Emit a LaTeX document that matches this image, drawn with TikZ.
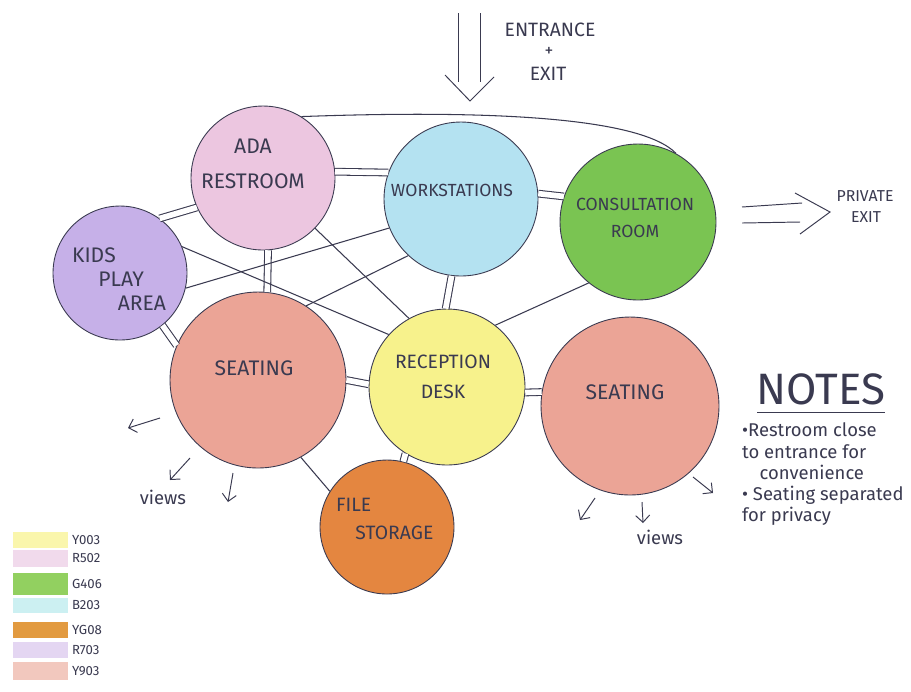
\documentclass[tikz,border=0pt]{standalone}
\usepackage{fontspec}
\setmainfont{Fira Sans}
\usetikzlibrary{arrows.meta}
\definecolor{ink}{RGB}{58,58,80}
% marker colours
\definecolor{adac}{RGB}{236,198,224}
\definecolor{workc}{RGB}{180,226,241}
\definecolor{consc}{RGB}{122,196,82}
\definecolor{kidsc}{RGB}{198,176,232}
\definecolor{seatc}{RGB}{235,164,150}
\definecolor{recc}{RGB}{247,242,140}
\definecolor{filec}{RGB}{228,134,64}
% legend swatches
\definecolor{yA}{RGB}{250,246,172}
\definecolor{rA}{RGB}{241,218,236}
\definecolor{gA}{RGB}{146,208,96}
\definecolor{bA}{RGB}{204,240,242}
\definecolor{ygA}{RGB}{226,154,64}
\definecolor{rB}{RGB}{228,214,242}
\definecolor{yB}{RGB}{242,200,190}

\begin{document}
\begin{tikzpicture}[x=0.02cm,y=-0.02cm,
  room/.style={circle,draw=ink,line width=0.5pt,inner sep=0pt},
  lbl/.style={text=ink,align=center,inner sep=1pt},
  link/.style={draw=ink,line width=0.6pt},
  dlink/.style={draw=ink,line width=0.6pt,double=white,double distance=3.2pt},
  view/.style={draw=ink,line width=0.55pt,-{Straight Barb[length=4pt,width=8pt]}}]
  \fill[white] (0,0) rectangle (911,691);
  \useasboundingbox (0,0) rectangle (911,691);
  % rooms
  \node[room,fill=adac,minimum size=2.88cm] (ada) at (263,178) {};
  \node[room,fill=workc,minimum size=3.08cm] (work) at (461,199) {};
  \node[room,fill=consc,minimum size=3.12cm] (cons) at (638,222) {};
  \node[room,fill=kidsc,minimum size=2.68cm] (kids) at (120,273) {};
  \node[room,fill=seatc,minimum size=3.52cm] (seatL) at (258,380) {};
  \node[room,fill=recc,minimum size=3.12cm] (rec) at (447,387) {};
  \node[room,fill=filec,minimum size=2.68cm] (file) at (387,527) {};
  \node[room,fill=seatc,minimum size=3.56cm] (seatR) at (630,406) {};
  % room names
  \node[lbl,font=\fontsize{12}{20}\selectfont] (adaT) at (253,164) {ADA\\RESTROOM};
  \node[lbl,font=\fontsize{10}{12}\selectfont] (workT) at (452,190) {WORKSTATIONS};
  \node[lbl,font=\fontsize{10}{15}\selectfont] (consT) at (635,218) {CONSULTATION\\ROOM};
  \node[lbl,align=left,anchor=west,font=\fontsize{12}{13.6}\selectfont] (kidsT) at (70,279)
    {KIDS\\\hspace{15pt}PLAY\\\hspace{26pt}AREA};
  \node[lbl,font=\fontsize{12}{14}\selectfont] (seatLT) at (254,368) {SEATING};
  \node[lbl,font=\fontsize{11}{17}\selectfont] (recT) at (443,377) {RECEPTION\\DESK};
  \node[lbl,font=\fontsize{12}{14}\selectfont] (seatRT) at (625,392) {SEATING};
  \node[lbl,align=left,anchor=west,font=\fontsize{11}{16}\selectfont] (fileT) at (334,519)
    {FILE\\\hspace{11pt}STORAGE};
  % paired links (adjacent)
  \draw[dlink] (kids.54) -- (ada.204);
  \draw[dlink] (kids.-51) -- (seatL.157);
  \draw[dlink] (ada.-86) -- (seatL.84);
  \draw[dlink] (ada.5) -- (work.160);
  \draw[dlink] (work.4) -- (cons.161);
  \draw[dlink] (work.-97) -- (rec.91);
  \draw[dlink] (seatL.0) -- (rec.178);
  \draw[dlink] (rec.-4) -- (seatR.171);
  \draw[dlink] (rec.-122) -- (file.76);
  % single links
  \draw[link] (ada.-44) -- (rec.119);
  \draw[link] (kids.23) -- (rec.138);
  \draw[link] (kids.-13) -- (work.202);
  \draw[link] (seatL.57) -- (work.227);
  \draw[link] (cons.231) -- (rec.52);
  \draw[link] (seatL.-61) -- (file.148);
  \draw[link] (ada.58) .. controls (480,110) and (640,116) .. (cons.61);
  % entrance + exit
  \draw[ink,line width=0.55pt] (458,13) -- (458,82) (480,13) -- (480,82);
  \draw[ink,line width=0.55pt] (445,75) -- (470,101) -- (494,77);
  \node[lbl,font=\fontsize{11}{12}\selectfont] (entT) at (550,30) {ENTRANCE};
  \node[lbl,font=\fontsize{10}{12}\selectfont] (plusT) at (549,52) {+};
  \node[lbl,font=\fontsize{11}{12}\selectfont] (exitT) at (548,74) {EXIT};
  % private exit
  \draw[ink,line width=0.55pt] (742,207) -- (802,203) (742,223) -- (800,222);
  \draw[ink,line width=0.55pt] (795,193) -- (830,212) -- (800,234);
  \node[lbl,font=\fontsize{9}{11}\selectfont] (privT) at (865,196) {PRIVATE};
  \node[lbl,font=\fontsize{9}{11}\selectfont] (pexitT) at (866,217) {EXIT};
  % views
  \draw[view] (160,418) -- (128,428);
  \draw[view] (190,458) -- (170,480);
  \draw[view] (233,473) -- (228,502);
  \node[lbl,font=\fontsize{10.5}{12}\selectfont] (viewL) at (163,497) {views};
  \draw[view] (595,498) -- (580,520);
  \draw[view] (642,502) -- (643,523);
  \draw[view] (693,477) -- (713,493);
  \node[lbl,font=\fontsize{10.5}{12}\selectfont] (viewR) at (660,537) {views};
  % notes
  \node[lbl,font=\fontsize{25}{28}\selectfont] (notes) at (821,389) {NOTES};
  \draw[ink,line width=0.5pt] (757,412) -- (885,412);
  \node[lbl,align=left,anchor=north west,font=\fontsize{10.5}{12}\selectfont] (notesT) at (740,421)
    {\textbullet Restroom close\\to entrance for\\\hspace{10pt}convenience\\\textbullet\ Seating separated\\for privacy};
  % legend
  \foreach \ya/\yb/\c/\t in {532/548/yA/Y003,550/567/rA/R502,573/595/gA/G406,598/613/bA/B203,
    622/638/ygA/YG08,642/658/rB/R703,662/680/yB/Y903}{%
    \fill[\c] (13,\ya) rectangle (68,\yb);
    \node[lbl,anchor=west,font=\fontsize{7.5}{9}\selectfont] at (70,{(\ya+\yb)/2}) {\t};}
\end{tikzpicture}
\end{document}
